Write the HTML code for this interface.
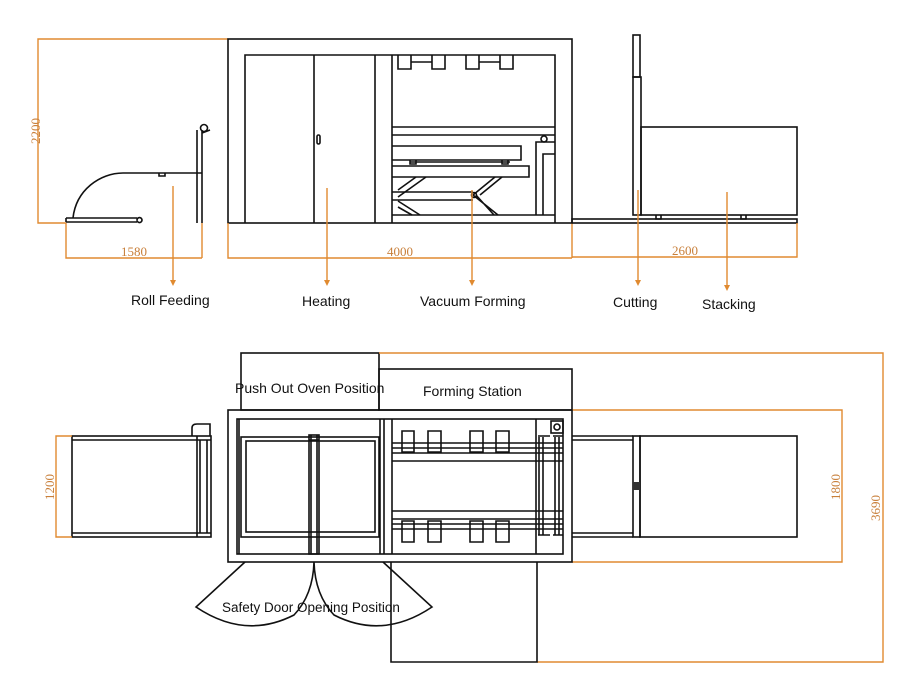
<!DOCTYPE html>
<html><head><meta charset="utf-8"><style>
html,body{margin:0;padding:0;background:#fff;}
svg{display:block;}
text{font-family:"Liberation Sans",Arial,sans-serif;}
.k{fill:none;stroke:#111;stroke-width:1.6;}
.o{fill:none;stroke:#e08a30;stroke-width:1.4;}
.d{font-family:"Liberation Serif",serif;font-size:13px;fill:#c87f3a;}
.l{font-size:14px;fill:#111;}
</style></head><body>
<svg width="900" height="678" viewBox="0 0 900 678" xmlns="http://www.w3.org/2000/svg">
<path class="o" d="M228 39H38V223H66"/>
<text class="d" transform="translate(40,131) rotate(-90)" text-anchor="middle">2200</text>
<path class="k" d="M66 222H137M66 218H137M66 218v4M137 220a2.5 2.5 0 1 1 0 .1"/>
<path class="k" d="M73 218C76 190 100 173 123 173H202"/>
<path class="k" d="M197 130V223M202 130V223M202 133l8 -3"/>
<circle class="k" cx="204" cy="128" r="3.5"/>
<path class="k" d="M159 173v3h6v-3"/>
<path class="o" d="M66 223V258H202M202 223V258"/>
<text class="d" x="134" y="256" text-anchor="middle">1580</text>
<rect class="k" x="228" y="39" width="344" height="184"/>
<path class="k" d="M245 223V55H375V223M314 55V223M375 55H555V223M392 55V223"/>
<rect class="k" x="317" y="135" width="3" height="9" rx="1.5"/>
<path class="k" d="M398 55v14h13v-14M432 55v14h13v-14M411 62h21M466 55v14h13v-14M500 55v14h13v-14M479 62h21"/>
<path class="k" d="M392 127H555M392 135H538M392 146H521V160H392M392 166H529V177H392M392 215H555"/>
<path class="k" d="M410 162h100M410 160v4h6v-4M502 160v4h6v-4"/>
<path class="k" d="M398 190l18 -13M398 197l28 -20M398 201l22 14M398 207l14 8M473 195l22 -18M473 195l25 20M480 195l22 -18M476 195l18 20"/>
<path class="k" d="M392 192H473M392 200H473"/>
<circle class="k" cx="474" cy="195" r="2.5"/>
<path class="k" d="M536 215V142H555M543 215V154H555M538 135H555"/>
<circle class="k" cx="544" cy="139" r="3"/>
<path class="o" d="M228 223V258H572M572 223V258"/>
<text class="d" x="400" y="256" text-anchor="middle">4000</text>
<rect class="k" x="572" y="219" width="225" height="4"/>
<rect class="k" x="633" y="35" width="7" height="42"/>
<rect class="k" x="633" y="77" width="8" height="138"/>
<rect class="k" x="641" y="127" width="156" height="88"/>
<path class="k" d="M656 215v4h5v-4M741 215v4h5v-4"/>
<path class="o" d="M797 223V257H572"/>
<text class="d" x="685" y="255" text-anchor="middle">2600</text>
<g class="o">
<path d="M173 186V283M327 188V283M472 190V283M638 190V283M727 192V288"/>
</g>
<g fill="#e08a30">
<path d="M170 280l3 6 3-6z"/><path d="M324 280l3 6 3-6z"/><path d="M469 280l3 6 3-6z"/><path d="M635 280l3 6 3-6z"/><path d="M724 285l3 6 3-6z"/>
</g>
<text class="l" x="131" y="305">Roll Feeding</text>
<text class="l" x="302" y="306">Heating</text>
<text class="l" x="420" y="306">Vacuum Forming</text>
<text class="l" x="613" y="307">Cutting</text>
<text class="l" x="702" y="309">Stacking</text>

<rect class="k" x="241" y="353" width="138" height="57"/>
<rect class="k" x="379" y="369" width="193" height="41"/>
<path class="o" d="M379 353H883V662H537"/>
<path class="k" d="M391 562V662H537V562"/>
<text class="d" transform="translate(880,508) rotate(-90)" text-anchor="middle">3690</text>
<path class="o" d="M572 410H842V562H572"/>
<text class="d" transform="translate(840,487) rotate(-90)" text-anchor="middle">1800</text>
<text class="l" x="235" y="393">Push Out Oven Position</text>
<text class="l" x="423" y="396">Forming Station</text>
<rect class="k" x="228" y="410" width="344" height="152"/>
<rect class="k" x="237" y="419" width="326" height="135"/>
<path class="k" d="M239 419V554M380 419V554M384 419V554M392 419V554"/>
<rect class="k" x="241" y="437" width="138" height="100"/>
<rect class="k" x="246" y="441" width="129" height="91"/>
<rect class="k" x="309" y="435" width="10" height="119"/>
<path class="k" d="M309 440h10M311 435v119M317 435v119"/>
<path class="k" d="M392 443H563M392 448H563M392 453H563M392 461H563M392 511H563M392 519H563M392 524H563M392 529H563"/>
<path class="k" d="M402 431h12v21h-12zM428 431h13v21h-13zM470 431h13v21h-13zM496 431h13v21h-13z" fill="#fff"/>
<path class="k" d="M402 521h12v21h-12zM428 521h13v21h-13zM470 521h13v21h-13zM496 521h13v21h-13z" fill="#fff"/>
<path class="k" d="M536 419V554M539 437V535M543 437V535M555 437V535M559 437V535"/>
<path class="k" d="M538 436h12M553 436h10M538 535h12M553 535h10"/>
<rect class="k" x="551" y="421" width="12" height="12"/>
<circle class="k" cx="557" cy="427" r="3"/>
<path class="k" d="M245 562L196 607Q245 640 294 615Q313 595 314 562Q315 595 334 615Q383 640 432 607L383 562"/>
<text class="l" x="222" y="612" style="font-size:13.5px">Safety Door Opening Position</text>
<rect class="k" x="72" y="436" width="139" height="101"/>
<path class="k" d="M72 440H197M72 533H197M197 436V537M200 440V533M207 440V533M197 440h14M197 533h14"/>
<path class="k" d="M192 436v-8q0-4 5-4h13v12"/>
<path class="o" d="M72 436H56V537H72"/>
<text class="d" transform="translate(54,487) rotate(-90)" text-anchor="middle">1200</text>
<path class="k" d="M572 436H633M572 440H633M572 533H633M572 537H633"/>
<rect class="k" x="633" y="436" width="7" height="101"/>
<rect class="k" x="640" y="436" width="157" height="101"/>
<rect x="633" y="482" width="7" height="8" fill="#333"/>
</svg>
</body></html>
